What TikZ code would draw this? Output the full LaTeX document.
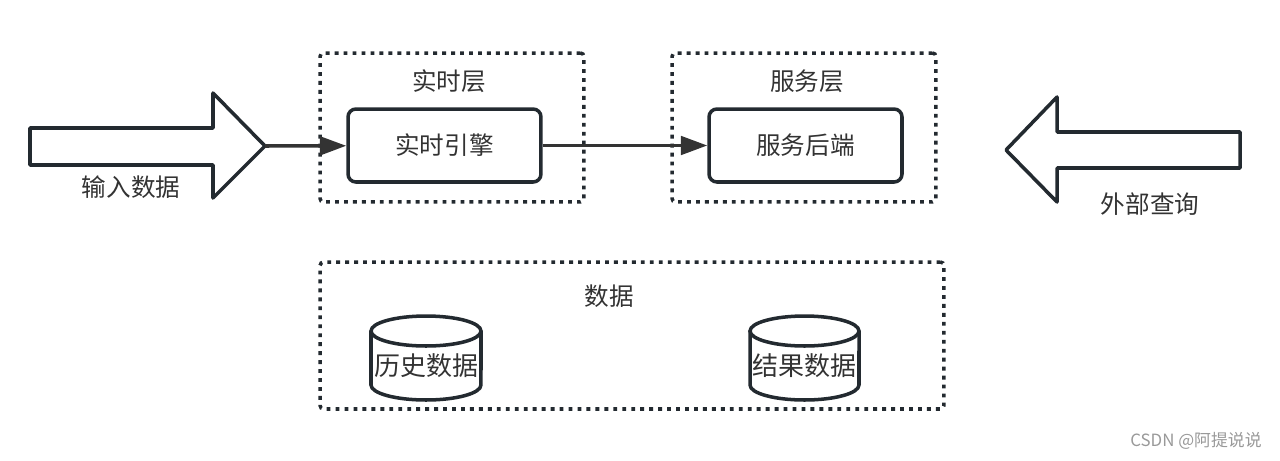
\documentclass[tikz,border=0pt]{standalone}
\usepackage{fontspec}
\setmainfont{Noto Sans CJK SC}
\usetikzlibrary{arrows.meta}
\definecolor{edge}{HTML}{232A30}
\definecolor{ink}{HTML}{333333}
\tikzset{
  box/.style={draw=edge, line width=2pt, rounded corners=4.5pt, minimum width=3.86cm, minimum height=1.46cm, text=ink, font=\fontsize{14pt}{17pt}\selectfont},
  layer/.style={draw=edge, line width=2pt, dash pattern=on 2.2pt off 2.9pt, rounded corners=2pt},
  title/.style={text=ink, font=\fontsize{14pt}{17pt}\selectfont},
  fat/.style={draw=edge, line width=2pt, line join=round},
  flow/.style={draw=ink, line width=2pt, -{Triangle[length=15pt,width=10.5pt]}},
  db/.style={draw=edge, line width=2pt},
  dbtext/.style={text=ink, font=\fontsize{14.8pt}{17pt}\selectfont, inner sep=0pt}
}
\begin{document}
\begin{tikzpicture}[x=0.02cm,y=-0.02cm]
\useasboundingbox (0,0) rectangle (1280,460);
% input arrow
\draw[fat] (30,128) -- (213,128) -- (213,93) -- (265,146) -- (213,198) -- (213,165) -- (30,165) -- cycle;
\coordinate (intip) at (265,146);
\node[title] (inlabel) at (131,187) {输入数据};
% realtime layer
\node[layer, minimum width=5.28cm, minimum height=2.98cm] (rtlayer) at (452,127.5) {};
\node[title] (rttitle) at (449,81) {实时层};
\node[box] (engine) at (444.5,145.5) {实时引擎};
% serving layer
\node[layer, minimum width=5.28cm, minimum height=2.98cm] (svlayer) at (804,127.5) {};
\node[title] (svtitle) at (807,81) {服务层};
\node[box] (backend) at (805.5,145.5) {服务后端};
\draw[flow] (intip) -- (engine);
\draw[flow] (engine) -- (backend);
% query arrow
\draw[fat] (1240,132) -- (1057,132) -- (1057,97) -- (1006,150) -- (1057,202) -- (1057,168) -- (1240,168) -- cycle;
\node[title] (qlabel) at (1150,204) {外部查询};
% data
\node[layer, minimum width=12.48cm, minimum height=2.94cm] (datalayer) at (632,335.5) {};
\node[title] (datatitle) at (609,296) {数据};
\draw[db] (371,331) -- (371,385) arc (180:360:1.1cm and 0.3cm) -- (481,331);
\draw[db] (426,331) ellipse (1.1cm and 0.3cm);
\node[dbtext] (hist) at (426,366) {历史数据};
\draw[db] (750,331) -- (750,385) arc (180:360:1.09cm and 0.3cm) -- (859,331);
\draw[db] (804.5,331) ellipse (1.09cm and 0.3cm);
\node[dbtext] (result) at (804.5,366) {结果数据};
\node[text=black!40, font=\fontsize{9.6pt}{11pt}\selectfont] (mark) at (1196,441) {CSDN @阿提说说};
\end{tikzpicture}
\end{document}
